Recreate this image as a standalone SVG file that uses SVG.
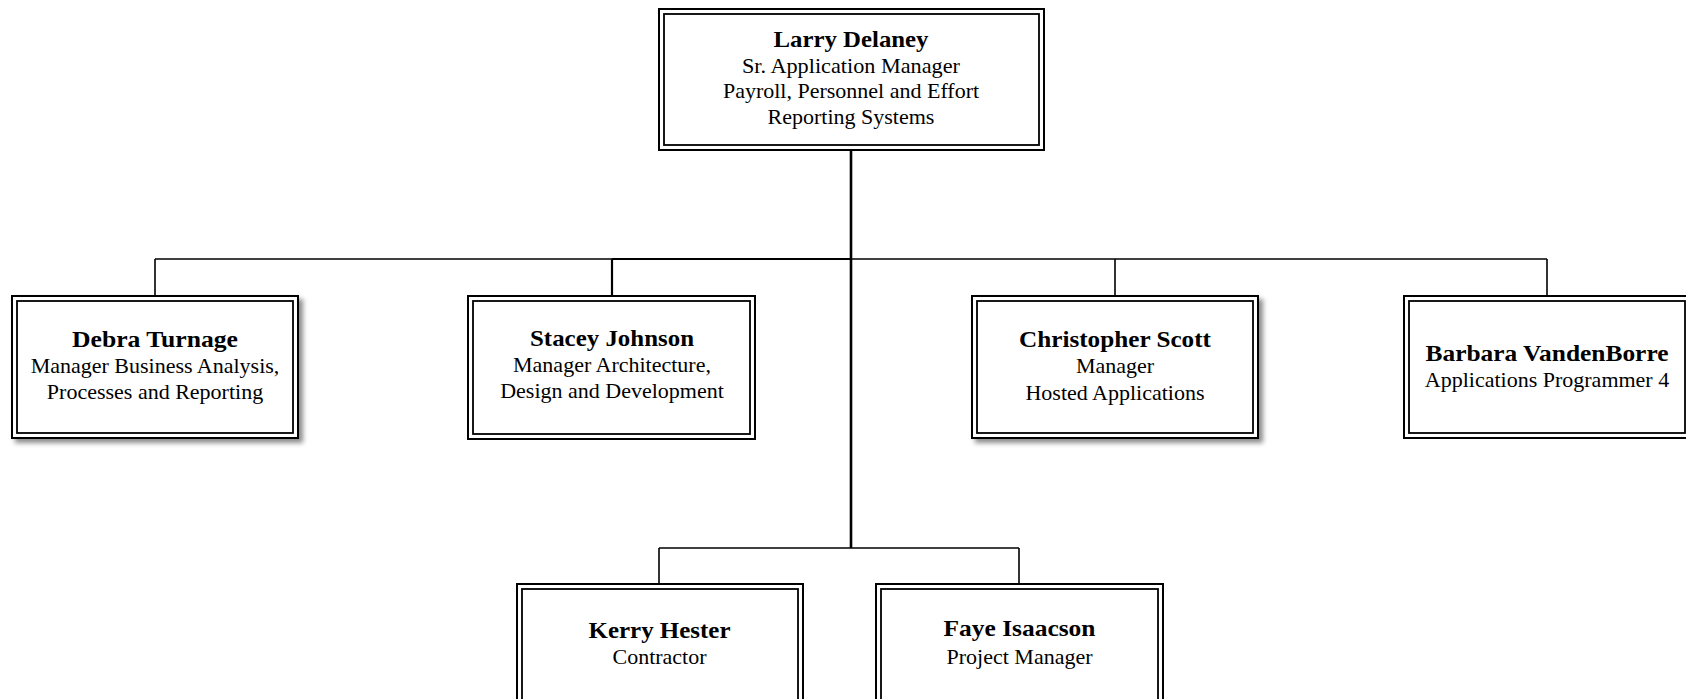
<svg xmlns="http://www.w3.org/2000/svg" width="1686" height="699" viewBox="0 0 1686 699">
<style>
.o{fill:#fff;stroke:#000;stroke-width:2}
.i{fill:none;stroke:#000;stroke-width:1.8}
.c{fill:none;stroke:#000;stroke-width:1.6}
.t{font-family:"Liberation Serif","Times New Roman",serif;font-size:22px;fill:#000;text-anchor:middle}
.b{font-weight:bold;font-size:23px}
</style>
<defs>
<filter id="sh" x="-10%" y="-10%" width="130%" height="130%">
<feDropShadow dx="4" dy="4" stdDeviation="2.5" flood-color="#000" flood-opacity="0.45"/>
</filter>
</defs>
<rect width="1686" height="699" fill="#fff"/>
<g id="connectors">
<line class="c" x1="851" y1="151" x2="851" y2="548" style="stroke-width:2.6"/>
<line class="c" x1="155" y1="259" x2="1547" y2="259"/>
<line class="c" x1="612" y1="259" x2="851" y2="259" style="stroke-width:2.2"/>
<line class="c" x1="155" y1="259" x2="155" y2="295"/>
<line class="c" x1="612" y1="259" x2="612" y2="295" style="stroke-width:2.2"/>
<line class="c" x1="1115" y1="259" x2="1115" y2="295"/>
<line class="c" x1="1547" y1="259" x2="1547" y2="295"/>
<line class="c" x1="659" y1="548" x2="1019" y2="548"/>
<line class="c" x1="659" y1="548" x2="659" y2="583"/>
<line class="c" x1="1019" y1="548" x2="1019" y2="583"/>
</g>
<g id="larry">
<rect class="o" x="659" y="9" width="385" height="141"/>
<rect class="i" x="664" y="14" width="375" height="131"/>
<text class="t b" x="851" y="47" textLength="155" lengthAdjust="spacingAndGlyphs">Larry Delaney</text>
<text class="t" x="851" y="73" textLength="218" lengthAdjust="spacingAndGlyphs">Sr. Application Manager</text>
<text class="t" x="851" y="98">Payroll, Personnel and Effort</text>
<text class="t" x="851" y="124">Reporting Systems</text>
</g>
<g id="debra">
<rect class="o" x="12" y="296" width="286" height="142" filter="url(#sh)"/>
<rect class="i" x="17" y="301" width="276" height="132"/>
<text class="t b" x="155" y="347" textLength="166" lengthAdjust="spacingAndGlyphs">Debra Turnage</text>
<text class="t" x="155" y="373">Manager Business Analysis,</text>
<text class="t" x="155" y="399">Processes and Reporting</text>
</g>
<g id="stacey">
<rect class="o" x="468" y="296" width="287" height="143"/>
<rect class="i" x="473" y="301" width="277" height="133"/>
<text class="t b" x="612" y="346" textLength="164" lengthAdjust="spacingAndGlyphs">Stacey Johnson</text>
<text class="t" x="612" y="372">Manager Architecture,</text>
<text class="t" x="612" y="398">Design and Development</text>
</g>
<g id="christopher">
<rect class="o" x="972" y="296" width="286" height="142" filter="url(#sh)"/>
<rect class="i" x="977" y="301" width="276" height="132"/>
<text class="t b" x="1115" y="347" textLength="192" lengthAdjust="spacingAndGlyphs">Christopher Scott</text>
<text class="t" x="1115" y="373">Manager</text>
<text class="t" x="1115" y="400">Hosted Applications</text>
</g>
<g id="barbara">
<rect class="o" x="1404" y="296" width="286" height="142"/>
<rect class="i" x="1409" y="301" width="276" height="132"/>
<text class="t b" x="1547" y="361" textLength="243" lengthAdjust="spacingAndGlyphs">Barbara VandenBorre</text>
<text class="t" x="1547" y="387">Applications Programmer 4</text>
</g>
<g id="kerry">
<rect class="o" x="517" y="584" width="286" height="142"/>
<rect class="i" x="522" y="589" width="276" height="132"/>
<text class="t b" x="659.5" y="638" textLength="142" lengthAdjust="spacingAndGlyphs">Kerry Hester</text>
<text class="t" x="659.5" y="664">Contractor</text>
</g>
<g id="faye">
<rect class="o" x="876" y="584" width="287" height="142"/>
<rect class="i" x="881" y="589" width="277" height="132"/>
<text class="t b" x="1019.5" y="636" textLength="152" lengthAdjust="spacingAndGlyphs">Faye Isaacson</text>
<text class="t" x="1019.5" y="664">Project Manager</text>
</g>
</svg>
